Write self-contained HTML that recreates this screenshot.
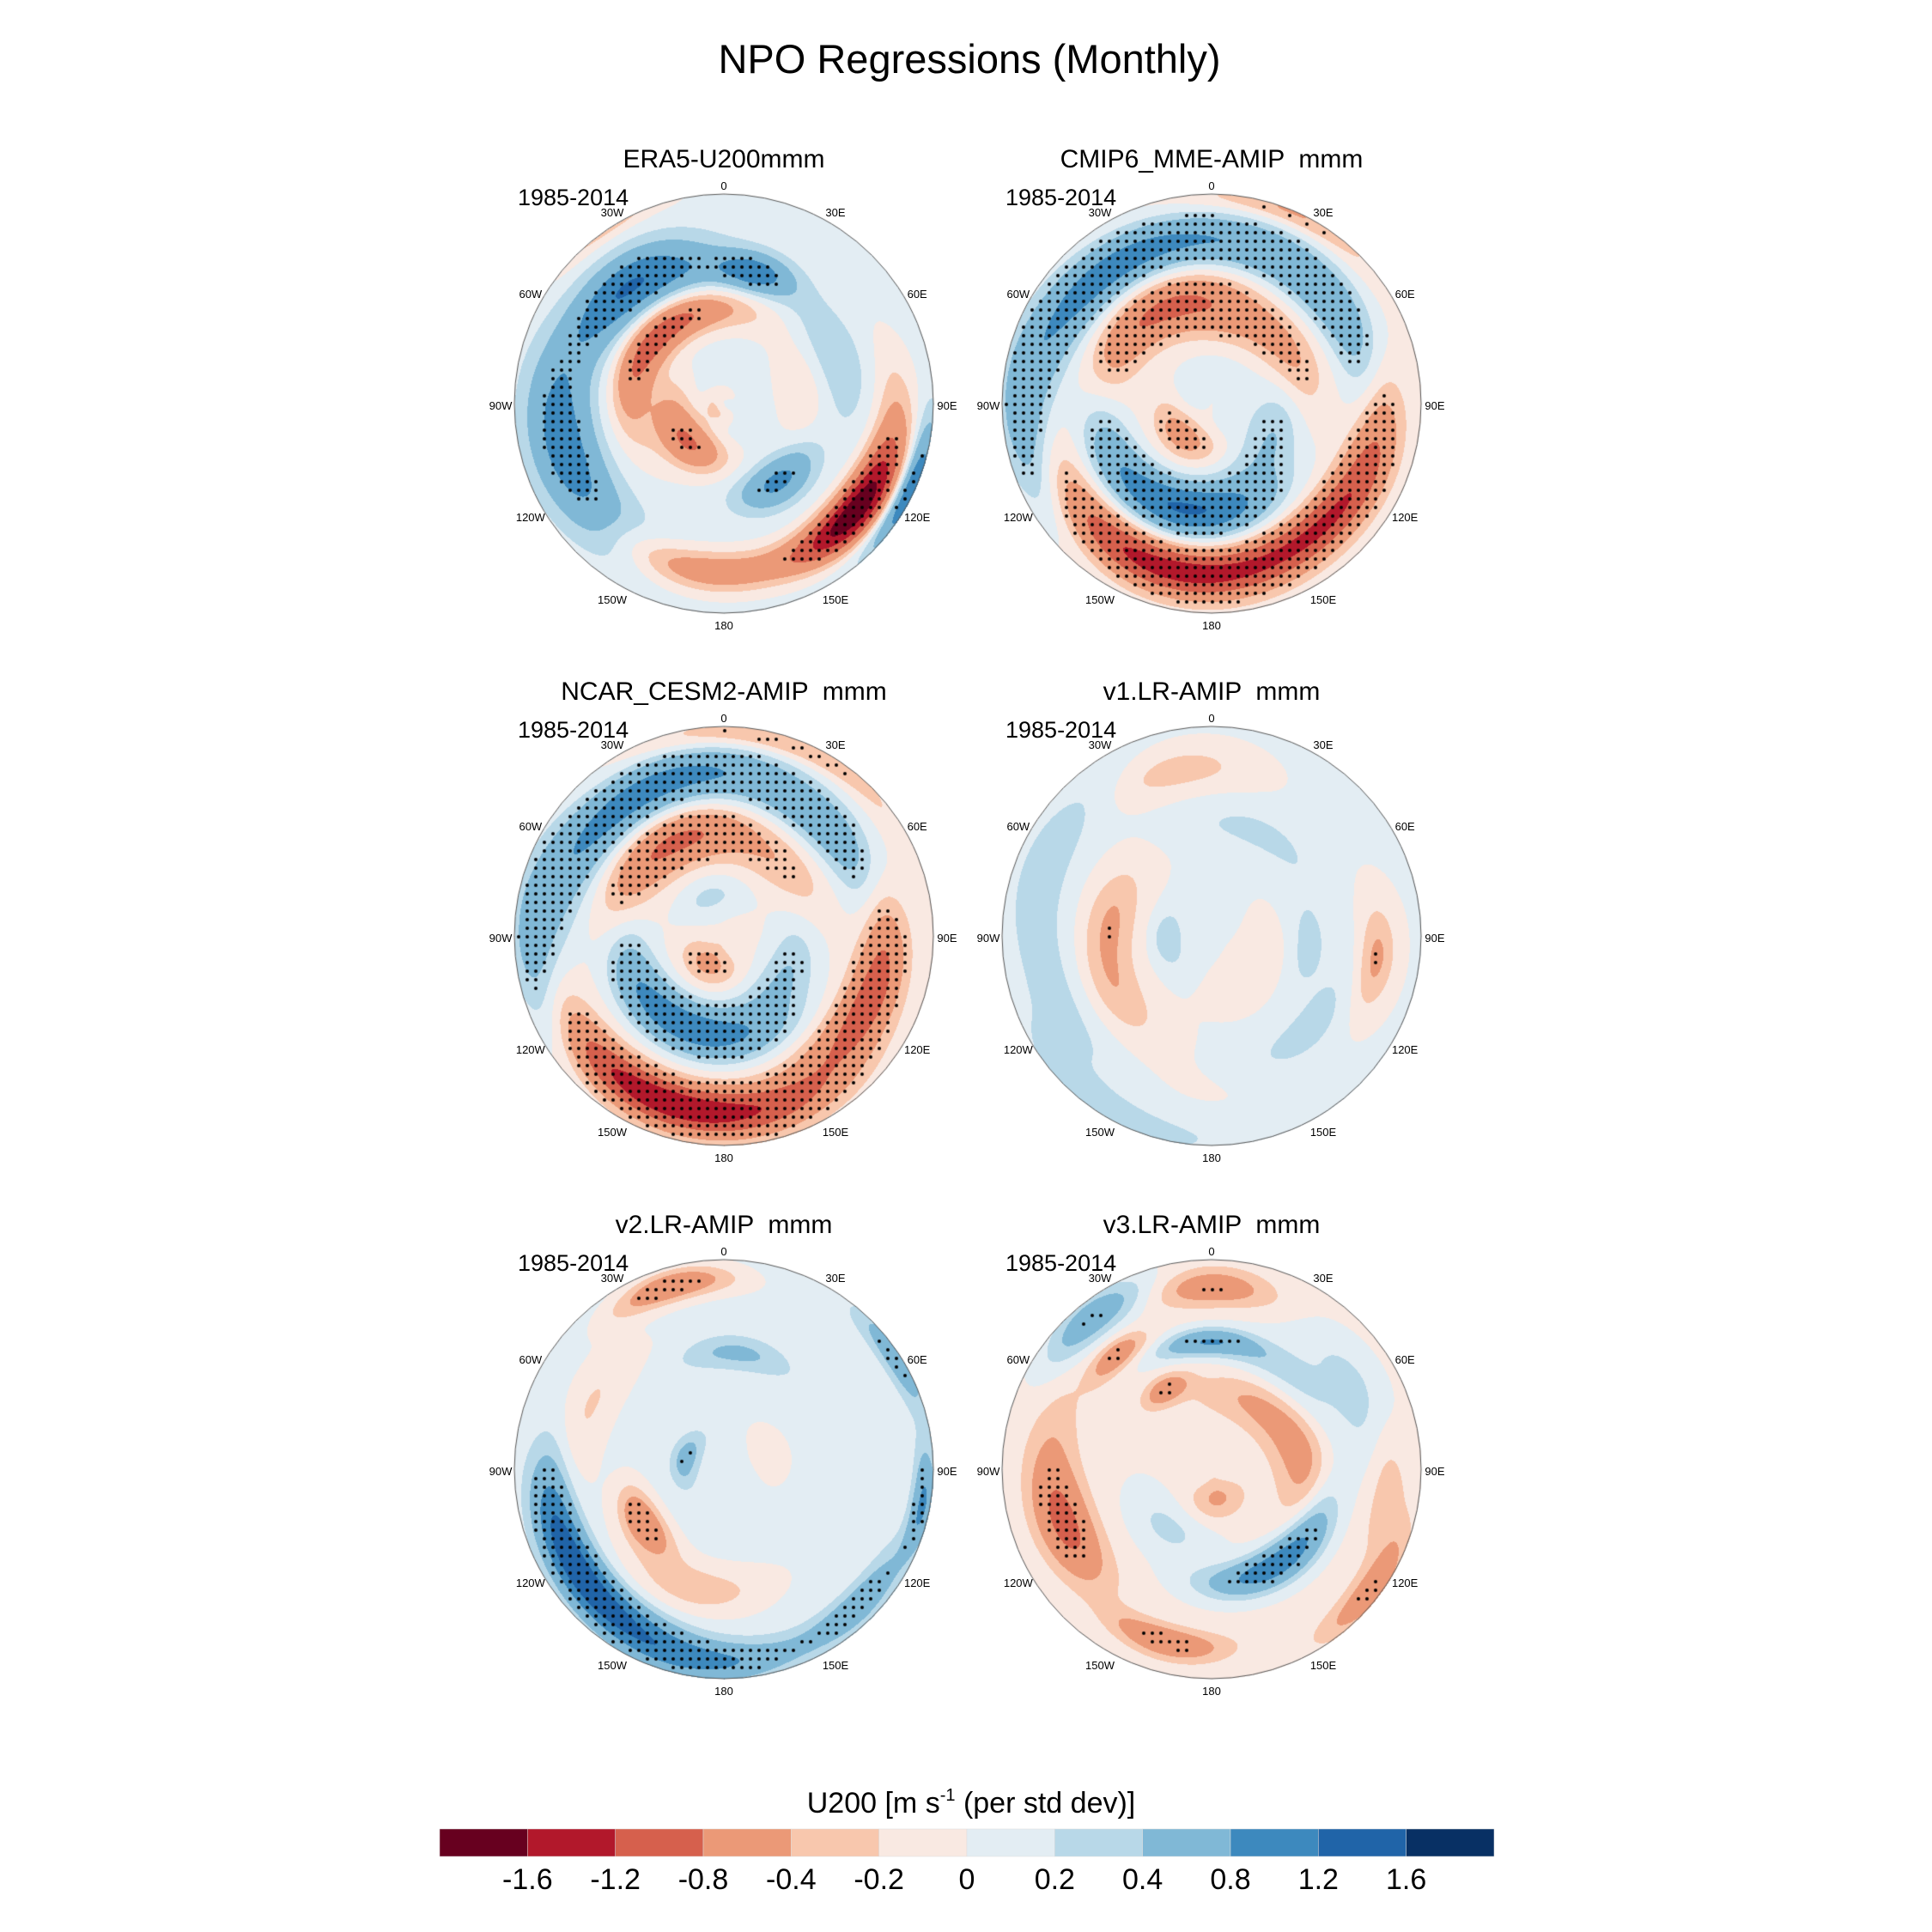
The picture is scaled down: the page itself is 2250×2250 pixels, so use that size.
<!DOCTYPE html>
<html><head><meta charset="utf-8">
<style>
html,body{margin:0;padding:0;background:#fff;}
body{width:2250px;height:2250px;position:relative;overflow:hidden;font-family:"Liberation Sans",sans-serif;}
.t{position:absolute;white-space:pre;color:#000;}
</style></head>
<body>
<canvas id="maps" width="2250" height="2250" style="position:absolute;left:0;top:0"></canvas>
<div id="labels"></div>
<script>
// ---- data ----
const panelTitles = ["ERA5-U200mmm","CMIP6_MME-AMIP  mmm","NCAR_CESM2-AMIP  mmm","v1.LR-AMIP  mmm","v2.LR-AMIP  mmm","v3.LR-AMIP  mmm"];
const panelBg = [0.08, -0.05, -0.05, 0.02, 0.08, -0.05];
const panelThr = [0.7, 0.3, 0.3, 0.45, 0.5, 0.6];
const featLon = [
 [-40,13.5,-10,-45,-114,-148,0,-60,-100,-110,145,131,118,187,115,68,81,-34],
 [-90,-40,10,55,-21,-65,60,10,0,-136,-160,-111,118,170,-170,-141,152,125,105,22],
 [-90,-47,-10,45,15,-18,-55,42,-20,-150,-152,-113,123,171,-163,-137,165,117,102],
 [-12,-78,-120,-64,-94,25,95,98,137,-149,-115,125,175],
 [-16,6,-65,-123,-165,-134,-171,-109,100,135,57,-74,70],
 [-38,0,-2,68,40,-40,-30,37,85,-112,-88,-143,156,128,-165,127,92,170]
];
const featR = [
 [0.73,0.64,0.65,0.45,0.25,0.25,0.05,0.05,0.8,0.78,0.45,0.8,0.82,0.8,0.98,0.57,0.37,1.02],
 [0.9,0.8,0.78,0.74,0.51,0.52,0.43,0.42,0.12,0.2,0.53,0.53,0.33,0.48,0.83,0.79,0.78,0.77,0.83,0.99],
 [0.9,0.78,0.79,0.71,0.97,0.5,0.52,0.43,0.2,0.15,0.46,0.47,0.34,0.48,0.83,0.84,0.86,0.73,0.78],
 [0.81,0.48,0.52,0.87,0.21,0.54,0.45,0.79,0.65,0.97,0.78,0.27,0.7],
 [0.91,0.56,0.71,0.46,0.58,0.85,0.92,0.83,0.96,0.91,0.98,0.19,0.23],
 [0.92,0.87,0.61,0.79,0.57,0.71,0.44,0.37,0.45,0.74,0.78,0.35,0.54,0.56,0.85,0.95,0.83,0.14]
];
const featVal = [
 [1.0,0.75,0.4,-1.1,-0.6,-0.5,0.4,-0.6,0.45,0.55,0.85,-1.3,-0.8,-0.7,1.1,0.3,-0.25,-0.4],
 [0.7,0.9,0.55,0.65,-0.65,-0.4,-0.4,-0.35,0.2,-0.6,0.9,0.55,0.45,0.6,-0.85,-0.6,-0.55,-0.65,-0.35,-0.4],
 [0.7,0.65,0.65,0.7,-0.4,-0.65,-0.4,-0.3,0.3,-0.45,0.7,0.55,0.45,0.6,-0.85,-0.6,-0.6,-0.65,-0.45],
 [-0.35,-0.4,-0.35,0.3,0.35,0.25,0.25,-0.5,0.3,0.3,0.25,-0.2,-0.1],
 [-0.8,0.4,-0.3,-0.8,-0.4,1.1,0.8,0.7,0.8,0.6,0.6,0.5,-0.15],
 [0.7,-0.6,0.8,0.4,0.35,-0.6,-0.6,-0.4,-0.4,-0.75,-0.3,0.3,0.8,0.6,-0.7,-0.6,-0.4,-0.4]
];
const featSr = [
 [0.1,0.07,0.08,0.08,0.1,0.08,0.06,0.05,0.12,0.12,0.08,0.08,0.08,0.08,0.05,0.1,0.1,0.05],
 [0.1,0.1,0.1,0.1,0.1,0.1,0.1,0.1,0.1,0.08,0.1,0.1,0.1,0.1,0.09,0.09,0.09,0.09,0.08,0.05],
 [0.1,0.1,0.1,0.1,0.05,0.1,0.1,0.1,0.08,0.08,0.1,0.1,0.1,0.1,0.09,0.09,0.09,0.09,0.08],
 [0.08,0.1,0.1,0.1,0.06,0.08,0.08,0.07,0.1,0.08,0.1,0.1,0.1],
 [0.06,0.06,0.1,0.07,0.1,0.08,0.07,0.08,0.04,0.06,0.05,0.05,0.1],
 [0.08,0.07,0.05,0.1,0.1,0.05,0.05,0.1,0.1,0.1,0.1,0.1,0.07,0.08,0.06,0.06,0.08,0.08]
];
const featSlon = [
 [22,12,30,45,40,30,180,180,30,30,20,18,30,25,15,25,30,15],
 [30,30,30,30,30,30,30,30,180,40,30,30,40,30,30,30,30,30,25,20],
 [30,30,30,30,30,30,30,30,40,40,30,30,40,30,30,30,30,30,25],
 [18,25,25,25,30,30,25,15,30,30,30,40,40],
 [15,20,25,18,30,25,25,20,12,15,12,30,40],
 [15,15,18,25,30,10,12,40,30,18,25,30,25,25,15,15,20,40]
];
const levels = [-1.6,-1.2,-0.8,-0.4,-0.2,0,0.2,0.4,0.8,1.2,1.6];
const levelLabels = ["-1.6","-1.2","-0.8","-0.4","-0.2","0","0.2","0.4","0.8","1.2","1.6"];
const colors = ["#67001f","#b2182b","#d6604d","#eb9977","#f8c7ad","#f9e9e2","#e3edf3","#b8d8e8","#80b8d6","#3d89be","#2064a8","#083064"];
const lonLabels = ["0","30E","60E","90E","120E","150E","180","150W","120W","90W","60W","30W"];

// ---- layout ----
const centersX = [843,1411];
const centersY = [470,1090,1711];
const R = 244;
const WS = 1.25; // smoothing broadening
const cv = document.getElementById('maps');
const ctx = cv.getContext('2d');
const lab = document.getElementById('labels');

function hexRGB(h){return [parseInt(h.substr(1,2),16),parseInt(h.substr(3,2),16),parseInt(h.substr(5,2),16)];}
const rgbCols = colors.map(hexRGB);
function fieldVal(p, r, lon){
  let v = panelBg[p];
  for(let k=0;k<featLon[p].length;k++){
    let dl = lon - featLon[p][k]; dl = ((dl+540)%360)-180;
    const dr = (r - featR[p][k]) / (featSr[p][k]*WS);
    const da = dl / (featSlon[p][k]*WS);
    v += featVal[p][k]*Math.exp(-dr*dr - da*da);
  }
  return v;
}
function addText(txt, x, y, size, name, anchor){
  const d = document.createElement('div');
  d.className='t'; d.textContent = txt;
  d.style.fontSize = size+'px';
  d.style.left = x+'px'; d.style.top = (y - size*0.58)+'px';
  d.style.transform = anchor==='middle' ? 'translateX(-50%)' : (anchor==='end'?'translateX(-100%)':'none');
  
  
  lab.appendChild(d);
  return d;
}

addText("NPO Regressions (Monthly)", 1129, 68, 47, 'main-title', 'middle');

for(let p=0;p<6;p++){
  const cx = centersX[p%2], cy = centersY[Math.floor(p/2)];
  const img = ctx.createImageData(2*R+2, 2*R+2);
  for(let j=0;j<2*R+2;j++){
    for(let i=0;i<2*R+2;i++){
      const dx = i-R-1, dy = j-R-1;
      const rr = Math.sqrt(dx*dx+dy*dy)/R;
      if(rr>1) continue;
      const lon = Math.atan2(dx,-dy)*180/Math.PI;
      const v = fieldVal(p, rr, lon);
      let k=0; while(k<levels.length && v>=levels[k]) k++;
      const c = rgbCols[k];
      const o = (j*(2*R+2)+i)*4;
      img.data[o]=c[0]; img.data[o+1]=c[1]; img.data[o+2]=c[2]; img.data[o+3]=255;
    }
  }
  ctx.putImageData(img, cx-R-1, cy-R-1);
  // stippling
  ctx.fillStyle = '#000';
  for(let y=cy-R+5; y<cy+R; y+=10){
    for(let x=cx-R+5; x<cx+R; x+=10){
      const dx=x-cx, dy=y-cy, rr=Math.sqrt(dx*dx+dy*dy)/R;
      if(rr>0.98) continue;
      const v = fieldVal(p, rr, Math.atan2(dx,-dy)*180/Math.PI);
      if(Math.abs(v)>panelThr[p]){ ctx.beginPath(); ctx.arc(x,y,2,0,2*Math.PI); ctx.fill(); }
    }
  }
  ctx.strokeStyle='#555'; ctx.lineWidth=1;
  ctx.beginPath(); ctx.arc(cx,cy,R,0,2*Math.PI); ctx.stroke();
  addText(panelTitles[p], cx, cy-284, 30, 'panel-title-'+(p+1), 'middle');
  addText("1985-2014", cx-240, cy-239, 27, 'period-label-'+(p+1), 'start');
  for(let k=0;k<12;k++){
    const a = k*30*Math.PI/180;
    const rad = (k===0||k===6) ? R+12 : R+16;
    const x = cx + rad*Math.sin(a), y = cy - rad*Math.cos(a) + 3;
    addText(lonLabels[k], x, y, 13, 'lon-label', 'middle');
  }
}

// ---- colorbar ----
const cbX0=512, cbX1=1740, cbY=2130, cbH=32;
const bw=(cbX1-cbX0)/12;
const cb = document.createElementNS('http://www.w3.org/2000/svg','svg');
cb.setAttribute('width','2250'); cb.setAttribute('height','2250');
cb.style.position='absolute'; cb.style.left='0'; cb.style.top='0';


for(let i=0;i<12;i++){
  const r=document.createElementNS('http://www.w3.org/2000/svg','rect');
  r.setAttribute('x',cbX0+i*bw); r.setAttribute('y',cbY); r.setAttribute('width',bw); r.setAttribute('height',cbH);
  r.setAttribute('fill',colors[i]); r.setAttribute('stroke','#ddd'); r.setAttribute('stroke-width','0.5');
  
  
  cb.appendChild(r);
}
document.body.appendChild(cb);
for(let i=0;i<levelLabels.length;i++){
  addText(levelLabels[i], cbX0+(i+1)*bw, 2190, 34, 'colorbar-tick-label', 'middle');
}
const ct = addText('', 1131, 2100, 34, 'colorbar-title', 'middle');
ct.innerHTML = 'U200 [m s<sup style="font-size:20px;vertical-align:14px">-1</sup> (per std dev)]';
</script>
</body></html>
